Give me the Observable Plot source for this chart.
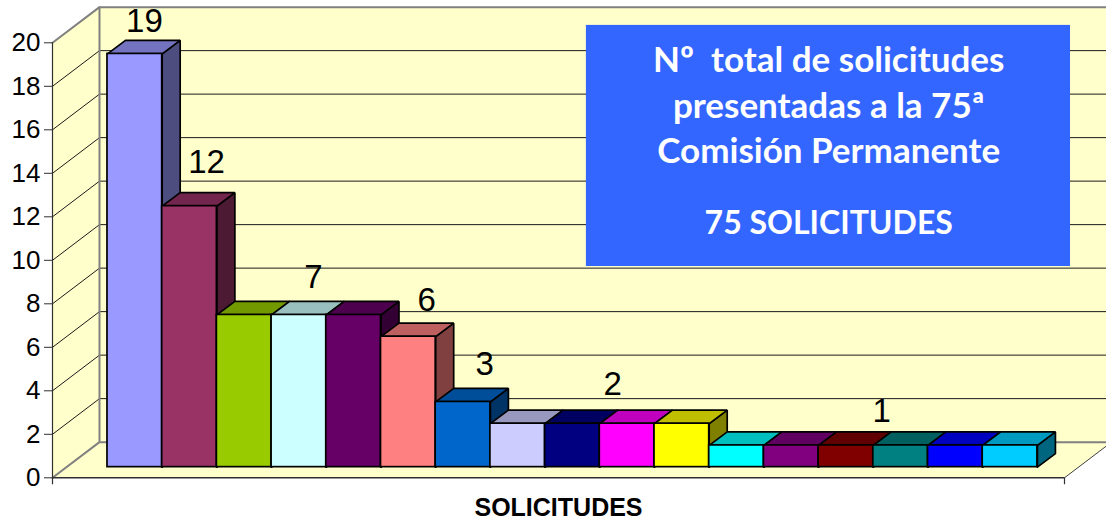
<!DOCTYPE html>
<html>
<head>
<meta charset="utf-8">
<style>html,body{margin:0;padding:0;background:#fff;overflow:hidden}</style>
<script src="https://cdn.jsdelivr.net/npm/d3@7"></script>
<script src="https://cdn.jsdelivr.net/npm/@observablehq/plot@0.6"></script>
</head>
<body>
<div id="chart"></div>
<script>
const solicitudes = [19, 12, 7, 7, 7, 6, 3, 2, 2, 2, 2, 1, 1, 1, 1, 1, 1];
const barColors = ["#9999FF","#993366","#99CC00","#CCFFFF","#660066","#FF8080","#0066CC","#CCCCFF","#000080","#FF00FF","#FFFF00","#00FFFF","#800080","#800000","#008080","#0000FF","#00CCFF"];
const yTicks = [0,2,4,6,8,10,12,14,16,18,20];
const labelTexts = ["19","12","7","6","3","2","1"];
const labelValues = [19,12,7,6,3,2,1];
const boxLines = ["Nº\u00A0 total de solicitudes","presentadas a la 75ª","Comisión Permanente","75 SOLICITUDES"];
const axisTitle = "SOLICITUDES";

// layout, in chart units (one category wide, one count high)
const floorEnd = 18.5;
const wallDx = 0.859, wallDy = 1.64;
const barX0 = 1.005, barY0 = 0.49;
const barDx = 0.329, barDy = 0.62;
const labelX = [1.68,2.815,4.77,6.84,7.90,10.24,15.16];
const labelLift = [1.96,2.52,2.23,2.17,2.23,2.29,2.07];
const boxLineX = 14.19, boxLineY = [19.15,17.08,15.01,11.7];
const boxLineSize = [35,35,35,32];
const box = {x1:9.76,x2:18.61,y1:9.715,y2:20.8};

const shade = (c,k)=>{const r=d3.rgb(c);return d3.rgb(r.r*k,r.g*k,r.b*k).formatHex();};
const wallFill = "#FFFFCC", frameGray = "#808080";

const poly = (id,fill,pts)=>pts.concat([pts[0]]).map(([x,y])=>({id,fill,x,y}));

const walls = [
  ...poly("back",wallFill,[[wallDx,wallDy],[floorEnd+2,wallDy],[floorEnd+2,20+wallDy],[wallDx,20+wallDy]]),
  ...poly("left",wallFill,[[0,0],[wallDx,wallDy],[wallDx,20+wallDy],[0,20]]),
  ...poly("floor",wallFill,[[0,0],[wallDx,wallDy],[floorEnd+wallDx,wallDy],[floorEnd,0]])
];
const grid = yTicks.slice(1,-1).flatMap(v=>[{v,x:0,y:v},{v,x:wallDx,y:v+wallDy},{v,x:floorEnd+2,y:v+wallDy}]);
const frame = [0,20].flatMap(v=>[{v,x:0,y:v},{v,x:wallDx,y:v+wallDy},{v,x:floorEnd+2,y:v+wallDy}]);

const bars = solicitudes.map((v,i)=>({v,i,c:barColors[i],x1:barX0+i,x2:barX0+i+1,y1:barY0,y2:barY0+v}));
const faces = bars.flatMap(b=>[
  ...poly("s"+b.i,shade(b.c,.5),[[b.x2,b.y1],[b.x2+barDx,b.y1+barDy],[b.x2+barDx,b.y2+barDy],[b.x2,b.y2]]),
  ...poly("t"+b.i,shade(b.c,.75),[[b.x1,b.y2],[b.x2,b.y2],[b.x2+barDx,b.y2+barDy],[b.x1+barDx,b.y2+barDy]])
]);
const labels = labelTexts.map((t,i)=>({t,x:labelX[i],y:labelValues[i]+labelLift[i]}));
const boxText = boxLines.map((t,i)=>({t,x:boxLineX,y:boxLineY[i],s:boxLineSize[i]}));

const svg = Plot.plot({
  width:1106,height:520,
  marginLeft:52,marginRight:42,marginTop:42.3,marginBottom:42.7,
  style:{fontFamily:"'Liberation Sans',Arial,sans-serif",background:"#fff",color:"#000"},
  x:{type:"linear",domain:[0,floorEnd],axis:null},
  y:{type:"linear",domain:[0,20],axis:null},
  marks:[
    Plot.line(walls,{x:"x",y:"y",z:"id",fill:"fill",stroke:"none"}),
    Plot.line(grid,{x:"x",y:"y",z:"v",stroke:"#1a1a1a",strokeWidth:1}),
    Plot.line(frame,{x:"x",y:"y",z:"v",stroke:frameGray,strokeWidth:2}),
    Plot.ruleX([wallDx],{y1:wallDy,y2:20+wallDy,stroke:frameGray,strokeWidth:2}),
    Plot.line([{x:floorEnd,y:0},{x:floorEnd+wallDx,y:wallDy}],{x:"x",y:"y",stroke:"#404040",strokeWidth:1}),
    Plot.line(faces,{x:"x",y:"y",z:"id",fill:"fill",stroke:"#000",strokeWidth:1.7,strokeLinejoin:"miter"}),
    Plot.rect(bars,{x1:"x1",x2:"x2",y1:"y1",y2:"y2",fill:"c",stroke:"#000",strokeWidth:1.7}),
    Plot.ruleX([0],{y1:-0.32,y2:20,stroke:"#303030",strokeWidth:1.2}),
    Plot.ruleX([floorEnd],{y1:-0.32,y2:0,stroke:"#303030",strokeWidth:1.2}),
    Plot.ruleY([0],{x1:0,x2:floorEnd,stroke:"#303030",strokeWidth:1.5}),
    Plot.axisY({ticks:yTicks,tickFormat:d=>String(d),anchor:"left",label:null,tickSize:8,tickPadding:4,fontSize:26,stroke:"#303030",fill:"#000",fontVariant:"normal"}),
    Plot.text(labels,{x:"x",y:"y",text:"t",fontSize:33,fill:"#000",lineAnchor:"middle"}),
    Plot.rect([box],{x1:"x1",x2:"x2",y1:"y1",y2:"y2",fill:"#3366FF"}),
    Plot.text(boxText,{x:"x",y:"y",text:"t",fill:"#fff",fontSize:"s",fontWeight:700,fontFamily:"Lato",lineAnchor:"middle"}),
    Plot.text([axisTitle],{frameAnchor:"bottom",dy:30,x:()=>9.25,text:d=>d,fontSize:25,fontWeight:700,fill:"#000",lineAnchor:"middle"})
  ]
});
document.getElementById("chart").appendChild(svg);
</script>
</body>
</html>
